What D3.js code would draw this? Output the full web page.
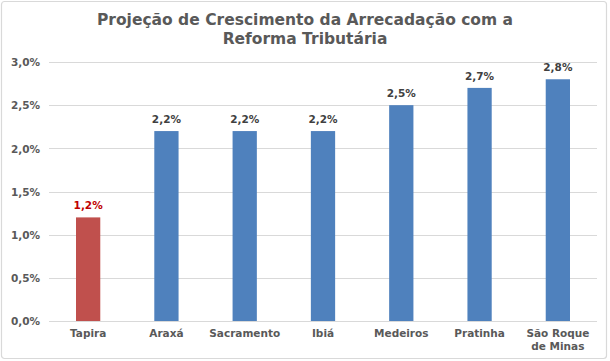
<!DOCTYPE html>
<html><head><meta charset="utf-8">
<script src="https://cdn.jsdelivr.net/npm/d3@7"></script>
<style>body{margin:0;background:#fff;} svg{display:block;}</style>
</head><body><div id="chart"></div>
<script>
const categories = ["Tapira","Araxá","Sacramento","Ibiá","Medeiros","Pratinha","São Roque de Minas"];
const values = [1.2, 2.2, 2.2, 2.2, 2.5, 2.7, 2.8];
const yTicks = [0, 0.5, 1.0, 1.5, 2.0, 2.5, 3.0];
const titleLines = ["Projeção de Crescimento da Arrecadação com a", "Reforma Tributária"];

const W = 610, H = 361;
const svg = d3.select("#chart").append("svg").attr("width", W).attr("height", H);
svg.append("rect").attr("x",1.5).attr("y",1.5).attr("width",W-5).attr("height",H-4)
  .attr("fill","#fff").attr("stroke","#d9d9d9").attr("stroke-width",1.2).attr("rx",3);

const font = "'DejaVu Sans', Verdana, sans-serif";
const x = d3.scaleBand().domain(categories).range([49, 597]).paddingInner(0.69).paddingOuter(0.345);
const y = d3.scaleLinear().domain([0, 3]).range([321, 62]);

const fmt = v => d3.format(".1f")(v).replace(".", ",") + "%";

// gridlines
svg.append("g").selectAll("line").data(yTicks).join("line")
  .attr("x1", 49).attr("x2", 597)
  .attr("y1", d => Math.round(y(d)) + 0.5).attr("y2", d => Math.round(y(d)) + 0.5)
  .attr("stroke", "#d9d9d9").attr("stroke-width", 1);

// y axis labels
const yAxis = svg.append("g").attr("transform", "translate(40,0)")
  .call(d3.axisLeft(y).tickValues(yTicks).tickFormat(fmt).tickSize(0).tickPadding(0));
yAxis.select(".domain").remove();
yAxis.selectAll("text").attr("font-family", font).attr("font-weight","bold").attr("font-size", 10.5).attr("fill", "#595959").attr("dy","0.35em");

// bars
svg.append("g").selectAll("rect").data(values).join("rect")
  .attr("x", (d,i) => x(categories[i])).attr("width", x.bandwidth())
  .attr("y", d => y(d)).attr("height", d => y(0) - y(d))
  .attr("fill", (d,i) => i === 0 ? "#C0504D" : "#4F81BD");

// data labels
svg.append("g").selectAll("text").data(values).join("text")
  .attr("x", (d,i) => x(categories[i]) + x.bandwidth()/2).attr("y", d => y(d) - 8)
  .attr("text-anchor","middle").attr("font-family", font).attr("font-weight","bold")
  .attr("font-size", 10.5).attr("fill", (d,i) => i === 0 ? "#C00000" : "#404040")
  .text(d => fmt(d));

// category labels
const xAxis = svg.append("g").attr("transform", "translate(0,321)")
  .call(d3.axisBottom(x).tickSize(0).tickPadding(0).tickFormat(""));
xAxis.select(".domain").remove();
xAxis.selectAll(".tick").each(function(d) {
  const lines = d === "São Roque de Minas" ? ["São Roque","de Minas"] : [d];
  const t = d3.select(this).append("text").attr("text-anchor","middle")
    .attr("font-family", font).attr("font-weight","bold").attr("font-size", 10.5).attr("fill","#595959");
  lines.forEach((l, k) => t.append("tspan").attr("x", 0).attr("y", 16 + k*13).text(l));
});

// title
const title = svg.append("text").attr("text-anchor","middle").attr("font-family", font)
  .attr("font-weight","bold").attr("font-size", 15.5).attr("fill","#595959");
titleLines.forEach((l,k) => title.append("tspan").attr("x", 305).attr("y", 25 + k*19).text(l));
</script></body></html>
